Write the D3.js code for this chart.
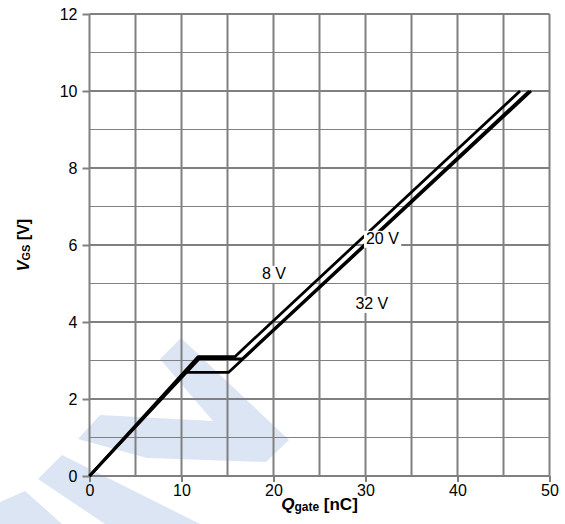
<!DOCTYPE html>
<html>
<head>
<meta charset="utf-8">
<script src="https://cdn.jsdelivr.net/npm/d3@7"></script>
<style>
  html, body { margin: 0; padding: 0; background: #fff; }
  svg { display: block; font-family: "Liberation Sans", Arial, sans-serif; }
</style>
</head>
<body>
<svg id="chart" width="565" height="524"></svg>
<script>
// Gate charge curves: V_GS versus Q_gate for three drain-source voltages
const seriesNames = ["8 V", "20 V", "32 V"];
const qgate8  = [0, 11.8, 15.8, 46.8];
const vgs8    = [0, 3.10, 3.10, 10];
const qgate20 = [0, 11.9, 16.6, 47.8];
const vgs20   = [0, 3.04, 3.04, 10];
const qgate32 = [0, 10.4, 15.1, 48.0];
const vgs32   = [0, 2.69, 2.69, 10];

// Curve label anchors (data units: left edge of text, baseline)
const labelQ = [18.75, 30.05, 28.9];
const labelV = [5.12, 6.03, 4.34];

const xTickValues = [0, 10, 20, 30, 40, 50];
const yTickValues = [0, 2, 4, 6, 8, 10, 12];
const xDomain = [0, 50];
const yDomain = [0, 12];

const svg = d3.select("#chart");
const x = d3.scaleLinear().domain(xDomain).range([89.5, 549.5]);
const y = d3.scaleLinear().domain(yDomain).range([476, 14]);

// Faint background logo
const logo = svg.append("g").attr("fill", "#dce5f4");
const logoShapes = [
  [[100,415],[213,421],[160,359],[181,338],[289,440],[266,462],[147,458],[78,439]],
  [[38,479],[62,455],[200,524],[105,524]],
  [[0,502],[25,491],[62,524],[0,524]]
];
logoShapes.forEach(p => logo.append("path").attr("d", "M" + p.join("L") + "Z"));

// Grid
const grid = svg.append("g").attr("stroke", "#808080").attr("fill", "none");
d3.range(0, 50.01, 5).forEach(q => {
  grid.append("line")
    .attr("x1", x(q)).attr("x2", x(q))
    .attr("y1", y(0)).attr("y2", y(12))
    .attr("stroke-width", 2);
});
d3.range(0, 12.01, 1).forEach(v => {
  const major = v % 2 === 0;
  grid.append("line")
    .attr("x1", x(0)).attr("x2", x(50))
    .attr("y1", y(v)).attr("y2", y(v))
    .attr("stroke-width", major ? 2 : 1.2);
});

// Axes
const xAxis = d3.axisBottom(x).tickValues(xTickValues).tickSize(6).tickPadding(3).tickFormat(d3.format("d"));
const yAxis = d3.axisLeft(y).tickValues(yTickValues).tickSize(7).tickPadding(5).tickFormat(d3.format("d"));

const gx = svg.append("g").attr("transform", `translate(0,${y(0)})`).call(xAxis);
const gy = svg.append("g").attr("transform", `translate(${x(0)},0)`).call(yAxis);
[gx, gy].forEach(g => {
  g.select(".domain").remove();
  g.selectAll(".tick line").attr("stroke", "#808080").attr("stroke-width", 2);
  g.selectAll(".tick text").attr("fill", "#000").attr("font-size", 16)
    .attr("font-family", "'Liberation Sans', Arial, sans-serif");
});

// Curves
const line = d3.line().x(d => x(d[0])).y(d => y(d[1]));
const series = [
  d3.zip(qgate8, vgs8),
  d3.zip(qgate20, vgs20),
  d3.zip(qgate32, vgs32)
];
svg.append("g").selectAll("path").data(series).join("path")
  .attr("d", line)
  .attr("fill", "none")
  .attr("stroke", "#000")
  .attr("stroke-width", 2.8)
  .attr("stroke-linejoin", "round");

// Curve labels with white backing
const lbl = svg.append("g");
seriesNames.forEach((name, i) => {
  const g = lbl.append("g");
  const t = g.append("text")
    .attr("x", x(labelQ[i])).attr("y", y(labelV[i]))
    .attr("font-size", 16).attr("fill", "#000")
    .text(name);
  const b = t.node().getBBox();
  g.insert("rect", "text")
    .attr("x", b.x - 2).attr("y", b.y + 1)
    .attr("width", b.width + 4).attr("height", b.height)
    .attr("fill", "#fff");
});

// Axis titles
const xt = svg.append("text")
  .attr("x", (x(0) + x(50)) / 2).attr("y", 510)
  .attr("text-anchor", "middle").attr("font-weight", "bold").attr("font-size", 17);
xt.append("tspan").attr("font-style", "italic").text("Q");
xt.append("tspan").attr("font-size", 12).attr("dy", 1).text("gate");
xt.append("tspan").attr("dy", -1).text(" [nC]");

const yt = svg.append("text")
  .attr("transform", `translate(29,${(y(0) + y(12)) / 2}) rotate(-90)`)
  .attr("text-anchor", "middle").attr("font-weight", "bold").attr("font-size", 16);
yt.append("tspan").attr("font-style", "italic").text("V");
yt.append("tspan").attr("font-size", 11).attr("dy", 1).text("GS");
yt.append("tspan").attr("dy", -1).text(" [V]");
</script>
</body>
</html>
